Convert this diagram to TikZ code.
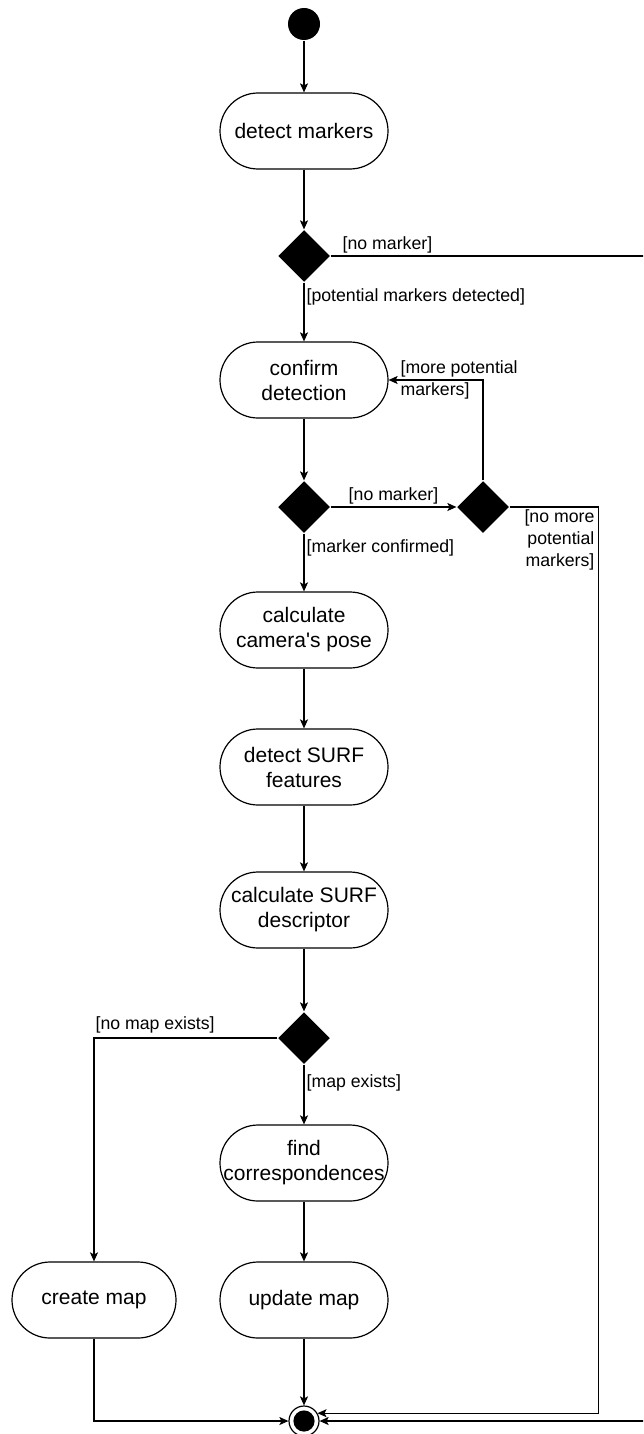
\documentclass[tikz,border=0pt]{standalone}
\usepackage{fontspec}
\setmainfont{Liberation Sans}
\usetikzlibrary{arrows.meta, positioning, shapes.geometric}

\begin{document}
\begin{tikzpicture}[
    x=0.5pt, y=-0.5pt,
    line width=0.6pt,
    action/.style={draw, rectangle, rounded corners=19pt, minimum width=84pt, minimum height=38pt, inner sep=1pt, align=center, font=\fontsize{10.5}{12.5}\selectfont},
    decision/.style={diamond, fill=black, inner sep=0pt, minimum width=26pt, minimum height=26pt},
    initial/.style={circle, fill=black, inner sep=0pt, minimum size=16pt},
    final/.style={circle, draw, inner sep=0pt, minimum size=15pt, path picture={\fill (path picture bounding box.center) circle (5.3pt);}},
    flow/.style={-{Stealth[length=4.5pt, width=4pt, inset=1pt]}},
    guard/.style={font=\fontsize{8.85}{11}\selectfont, inner sep=1pt}
  ]
  \clip (0,0) rectangle (643,1434);

  \node[initial] (start) at (304,24) {};
  \node[action] (detect) at (304,131) {detect markers};
  \node[decision] (found) at (304,256) {};
  \node[action] (confirm) at (304,380) {confirm\\detection};
  \node[decision] (confirmed) at (304,507) {};
  \node[decision] (more) at (483,507) {};
  \node[action] (pose) at (304,630) {calculate\\camera\textquotesingle s pose};
  \node[action] (features) at (304,767) {detect SURF\\features};
  \node[action] (descriptor) at (304,910) {calculate SURF\\descriptor};
  \node[decision] (mapcheck) at (304,1038) {};
  \node[action] (match) at (304,1163) {find\\correspondences};
  \node[action, minimum width=82pt] (create) at (94,1300) {create map};
  \node[action] (update) at (304,1300) {update map};
  \node[final] (end) at (304,1421) {};
  \coordinate (offright) at (665,256);

  \draw[flow] (start) -- (detect);
  \draw[flow] (detect) -- (found);
  \draw[flow] (found) -- node[guard, right, pos=0.25] {[potential markers detected]} (confirm);
  \draw[flow] (found.east) -- node[guard, above, pos=0.17] {[no marker]} (offright) |- (end.east);
  \draw[flow] (confirm) -- (confirmed);
  \draw[flow] (confirmed.east) -- node[guard, above] {[no marker]} (more.west);
  \draw[flow] (more.north) |- (confirm.east);
  \node[guard, anchor=west, align=left] (morelabel) at (398,380) {[more potential\\markers]};
  \draw[flow] (more.east) -- ++(89,0) |- (end.30);
  \node[guard, anchor=north east, align=right] (nomorelabel) at (597,507) {[no more\\potential\\markers]};
  \draw[flow] (confirmed) -- node[guard, right, pos=0.25] {[marker confirmed]} (pose);
  \draw[flow] (pose) -- (features);
  \draw[flow] (features) -- (descriptor);
  \draw[flow] (descriptor) -- (mapcheck);
  \draw[flow] (mapcheck.west) -| (create.north);
  \node[guard, anchor=south west] (nomaplabel) at (93,1036) {[no map exists]};
  \draw[flow] (mapcheck) -- node[guard, right, pos=0.3] {[map exists]} (match);
  \draw[flow] (match) -- (update);
  \draw[flow] (update) -- (end);
  \draw[flow] (create.south) |- (end.west);
\end{tikzpicture}
\end{document}
